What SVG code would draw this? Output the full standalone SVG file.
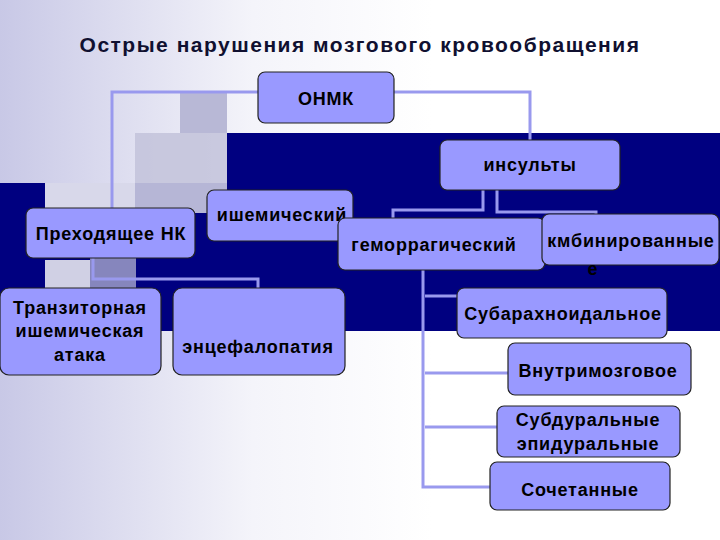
<svg xmlns="http://www.w3.org/2000/svg" width="720" height="540" viewBox="0 0 720 540">
<defs>
<linearGradient id="bg" x1="0" y1="0" x2="1" y2="0">
<stop offset="0" stop-color="#c8c8e6"/><stop offset="0.35" stop-color="#f4f4fa"/><stop offset="0.6" stop-color="#ffffff"/>
</linearGradient>
<style>
.n rect{fill:#9999ff;stroke:#222;stroke-width:1.2}
.n text{font-family:"Liberation Sans",Arial,sans-serif;font-weight:bold;font-size:18px;letter-spacing:0.8px;fill:#000;text-anchor:middle}
.c{fill:none;stroke:#9999ee;stroke-width:3}
</style>
</defs>
<rect width="720" height="540" fill="url(#bg)"/>
<rect x="227" y="133" width="493" height="50" fill="#000080"/>
<rect x="0" y="183" width="720" height="148" fill="#000080"/>
<rect x="135" y="133" width="92" height="50" fill="#c4c4dc" opacity="0.9"/>
<rect x="180" y="92" width="47" height="41" fill="#b8b8d6"/>
<rect x="135" y="183" width="92" height="30" fill="#b6b6d6"/>
<rect x="45" y="183" width="90" height="25" fill="#d8d8ea"/>
<rect x="90" y="210" width="46" height="80" fill="#a8a8cc" opacity="0.8"/>
<rect x="45" y="260" width="45" height="30" fill="#d0d0e4"/>
<text x="360" y="52" font-family="Liberation Sans,Arial,sans-serif" font-weight="bold" font-size="21" letter-spacing="1.5" text-anchor="middle" fill="#101030">Острые нарушения мозгового кровообращения</text>
<g id="connectors">
<path class="c" d="M258 92 H112 V208" stroke-width="5"/>
<path class="c" d="M394 92 H530 V140" stroke-width="5"/>
<path class="c" d="M483 190 V210 H393 V218"/>
<path class="c" d="M497 190 V212 H596 V214"/>
<path class="c" d="M93 258 V279 H258 V288"/>
<path class="c" d="M423 270 V487 H490"/>
<path class="c" d="M425 296 H457"/>
<path class="c" d="M425 373 H508"/>
<path class="c" d="M425 427 H497"/>
</g>
<g id="onmk" class="n"><rect x="258" y="72" width="136" height="51" rx="7"/><text x="326" y="105">ОНМК</text></g>
<g id="insulty" class="n"><rect x="440" y="140" width="180" height="50" rx="7"/><text x="530" y="171">инсульты</text></g>
<g id="prehod" class="n"><rect x="26" y="208" width="169" height="50" rx="7"/><text x="111" y="240">Преходящее НК</text></g>
<g id="ishem" class="n"><rect x="207" y="190" width="146" height="51" rx="7"/><text x="282" y="221">ишемический</text></g>
<g id="gemor" class="n"><rect x="338" y="218" width="207" height="52" rx="7"/><text x="434" y="251">геморрагический</text></g>
<g id="komb" class="n"><rect x="542" y="214" width="177" height="51" rx="7"/><text x="631" y="247">кмбинированные</text><text x="593" y="275">е</text></g>
<g id="tia" class="n"><rect x="0" y="288" width="161" height="87" rx="9"/><text x="80" y="314">Транзиторная</text><text x="80" y="337">ишемическая</text><text x="80" y="361">атака</text></g>
<g id="encef" class="n"><rect x="173" y="288" width="172" height="87" rx="9"/><text x="258" y="353">энцефалопатия</text></g>
<g id="subarah" class="n"><rect x="457" y="288" width="210" height="50" rx="7"/><text x="563" y="320">Субарахноидальное</text></g>
<g id="vnutri" class="n"><rect x="508" y="343" width="183" height="52" rx="7"/><text x="598" y="377">Внутримозговое</text></g>
<g id="subdur" class="n"><rect x="497" y="406" width="183" height="51" rx="7"/><text x="588" y="426">Субдуральные</text><text x="588" y="450">эпидуральные</text></g>
<g id="sochet" class="n"><rect x="490" y="462" width="180" height="48" rx="7"/><text x="580" y="496">Сочетанные</text></g>
</svg>
